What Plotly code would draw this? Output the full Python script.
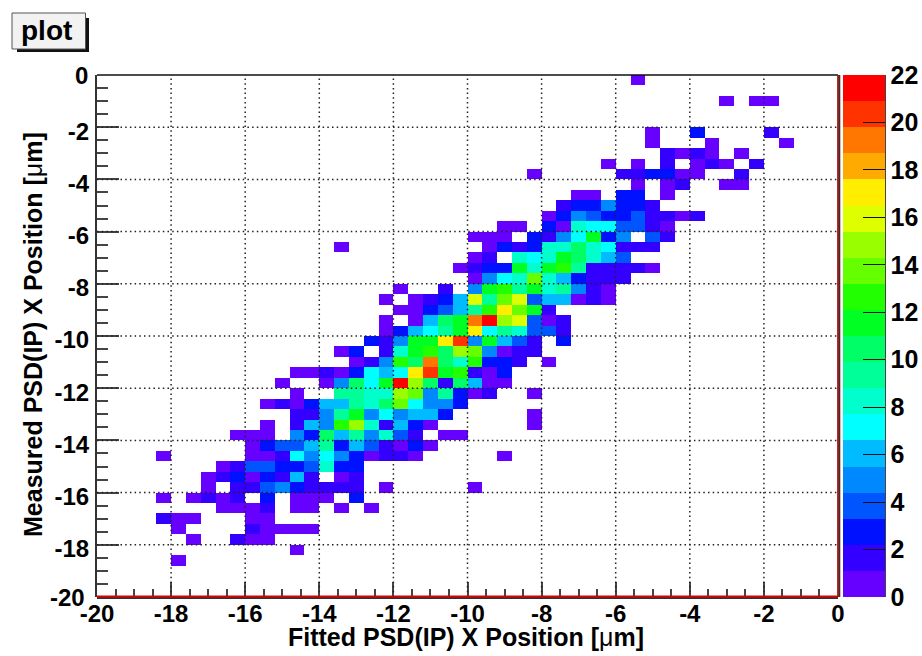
import plotly.graph_objects as go

# Histogram binning (50 x 50 bins of 0.4 um)
n_bins = 50
bin_width = 0.4
x_centers = [round(-20 + bin_width * (i + 0.5), 3) for i in range(n_bins)]
y_centers = [round(-bin_width * (r + 0.5), 3) for r in range(n_bins)]

x_ticks = [-20, -18, -16, -14, -12, -10, -8, -6, -4, -2, 0]
y_ticks = [0, -2, -4, -6, -8, -10, -12, -14, -16, -18, -20]
z_ticks = [0, 2, 4, 6, 8, 10, 12, 14, 16, 18, 20, 22]
x_title = "Fitted PSD(IP) X Position [<span style=\"font-weight:normal\">μ</span>m]"
y_title = "Measured PSD(IP) X Position [<span style=\"font-weight:normal\">μ</span>m]"
box_title = "plot"

# Counts per row from the top: (first x bin, counts...), 0 = empty bin
row_00 = (36, [1])
row_02 = (42, [1, 0, 1, 1])
row_05 = (37, [1, 0, 0, 3, 0, 0, 0, 0, 2])
row_06 = (37, [1, 0, 0, 0, 1, 0, 0, 0, 0, 1])
row_07 = (38, [2, 1, 2, 1, 0, 1])
row_08 = (34, [1, 0, 1, 0, 2, 0, 1, 2, 1, 0, 2])
row_09 = (29, [1, 0, 0, 0, 0, 0, 2, 2, 3, 3, 1, 1, 0, 0, 2])
row_10 = (36, [1, 0, 1, 2, 0, 0, 1, 1])
row_11 = (32, [1, 1, 0, 3, 3, 0, 1])
row_12 = (31, [2, 3, 3, 5, 3, 3, 2])
row_13 = (30, [1, 3, 5, 4, 3, 3, 4, 2, 2, 1, 2])
row_14 = (27, [1, 1, 0, 3, 1, 8, 7, 7, 4, 4, 2, 1])
row_15 = (25, [1, 1, 1, 0, 3, 2, 5, 7, 11, 3, 5, 0, 4, 2])
row_16 = (16, [1, 0, 0, 0, 0, 0, 0, 0, 0, 0, 1, 3, 2, 3, 8, 8, 10, 8, 7, 2, 2, 2])
row_17 = (25, [1, 2, 0, 8, 7, 8, 11, 10, 8, 6, 4])
row_18 = (24, [1, 2, 3, 3, 11, 8, 11, 13, 9, 2, 2, 2, 2, 1])
row_19 = (25, [1, 5, 7, 8, 14, 8, 6, 3, 2, 2, 2])
row_20 = (20, [1, 0, 0, 2, 0, 5, 11, 13, 9, 11, 8, 9, 5, 2, 1])
row_21 = (19, [1, 0, 1, 2, 3, 6, 16, 9, 14, 16, 4, 6, 6, 1, 2, 1])
row_22 = (20, [1, 1, 3, 4, 6, 9, 13, 17, 14, 11, 2])
row_23 = (19, [1, 0, 1, 6, 10, 11, 19, 21, 15, 16, 4, 1, 2])
row_24 = (19, [1, 3, 6, 7, 9, 11, 17, 7, 9, 8, 4, 4, 2])
row_25 = (18, [3, 2, 5, 11, 11, 17, 20, 5, 11, 6, 4, 2, 0, 3])
row_26 = (16, [1, 3, 0, 2, 8, 11, 13, 10, 15, 14, 5, 1, 2, 2])
row_27 = (17, [1, 2, 5, 13, 10, 19, 10, 8, 13, 3, 3, 2, 0, 1])
row_28 = (13, [1, 1, 2, 1, 3, 7, 6, 7, 17, 20, 11, 13, 2, 1, 3])
row_29 = (12, [1, 0, 0, 1, 5, 10, 7, 11, 21, 15, 10, 2, 10, 6, 1, 1])
row_30 = (13, [1, 0, 0, 9, 9, 8, 8, 15, 14, 5, 9, 3, 1, 2, 0, 0, 1])
row_31 = (11, [1, 2, 1, 3, 6, 6, 9, 8, 10, 14, 7, 5, 5, 3])
row_32 = (13, [2, 2, 5, 9, 11, 5, 7, 5, 6, 6, 3, 0, 0, 0, 0, 0, 1])
row_33 = (11, [1, 0, 2, 6, 5, 13, 15, 8, 2, 6, 3, 1, 0, 0, 0, 0, 0, 0, 1])
row_34 = (9, [1, 1, 1, 0, 5, 3, 10, 6, 9, 5, 8, 4, 2, 0, 1, 1])
row_35 = (10, [1, 3, 4, 4, 6, 9, 3, 6, 4, 2, 1, 3, 1])
row_36 = (4, [1, 0, 0, 0, 0, 0, 1, 1, 2, 7, 5, 7, 5, 3, 1, 2, 2, 1, 0, 0, 0, 0, 0, 1])
row_37 = (8, [1, 2, 4, 4, 3, 3, 4, 8, 3, 3])
row_38 = (7, [1, 2, 3, 1, 3, 2, 6, 2, 0, 1, 2])
row_39 = (7, [1, 0, 2, 2, 4, 5, 3, 2, 2, 2, 2, 0, 1, 0, 0, 0, 0, 0, 1])
row_40 = (4, [1, 0, 1, 2, 1, 2, 0, 3, 0, 1, 1, 1, 0, 3])
row_41 = (8, [1, 1, 1, 2, 0, 1, 1, 0, 1, 0, 1])
row_42 = (4, [2, 1, 1, 0, 0, 0, 1, 1])
row_43 = (5, [1, 0, 0, 0, 0, 2, 1, 1, 1, 1])
row_44 = (6, [1, 0, 0, 2, 1, 1])
row_45 = (13, [1])
row_46 = (5, [1])

rows = {0: row_00, 2: row_02, 5: row_05, 6: row_06, 7: row_07, 8: row_08, 9: row_09,
        10: row_10, 11: row_11, 12: row_12, 13: row_13, 14: row_14, 15: row_15,
        16: row_16, 17: row_17, 18: row_18, 19: row_19, 20: row_20, 21: row_21,
        22: row_22, 23: row_23, 24: row_24, 25: row_25, 26: row_26, 27: row_27,
        28: row_28, 29: row_29, 30: row_30, 31: row_31, 32: row_32, 33: row_33,
        34: row_34, 35: row_35, 36: row_36, 37: row_37, 38: row_38, 39: row_39,
        40: row_40, 41: row_41, 42: row_42, 43: row_43, 44: row_44, 45: row_45,
        46: row_46}

# 20-contour rainbow palette, bottom to top
palette = ["#6600ff", "#3300ff", "#0011ff", "#0055ff", "#0088ff", "#00bbff", "#00ffff",
           "#00ffcc", "#00ff99", "#00ff66", "#00ff22", "#22ff00", "#66ff00", "#99ff00",
           "#ddff00", "#ffee00", "#ffaa00", "#ff7700", "#ff3300", "#ff0000"]

z = [[None] * n_bins for _ in range(n_bins)]
for r, (start, counts) in rows.items():
    for i, v in enumerate(counts):
        if v:
            z[r][start + i] = v

scale = []
for k, c in enumerate(palette):
    scale.append([k / 20, c])
    scale.append([(k + 1) / 20, c])

W, H = 922, 656
L, R, T, B = 97, 838, 75, 597


def px(x):
    return (x - L) / (R - L)


def py(y):
    return (B - y) / (B - T)


FONT = "Liberation Sans"
fig = go.Figure(go.Heatmap(
    x=x_centers, y=y_centers, z=z, zmin=0, zmax=22, colorscale=scale,
    hoverongaps=False,
    colorbar=dict(
        x=px(843.3), xanchor="left", y=0, yanchor="bottom", len=1, lenmode="fraction",
        thickness=42, thicknessmode="pixels", xpad=0, ypad=0,
        outlinewidth=0,
        tickmode="array", tickvals=z_ticks, ticks="inside", ticklen=22, tickwidth=1,
        tickcolor="#111111", tickfont=dict(family=FONT, size=25, color="black", weight="bold"),
    ),
))

shapes = []
for t in x_ticks[1:-1]:
    shapes.append(dict(type="line", xref="x", yref="paper", x0=t, x1=t, y0=0, y1=1,
                       line=dict(color="#222222", width=1.5, dash="1.5px,3.2px"), layer="above"))
for t in y_ticks[1:-1]:
    shapes.append(dict(type="line", xref="paper", yref="y", x0=0, x1=1, y0=t, y1=t,
                       line=dict(color="#222222", width=1.5, dash="1.5px,3.2px"), layer="above"))
# frame
shapes += [
    dict(type="line", xref="paper", yref="paper", x0=0, x1=1, y0=1, y1=1,
         line=dict(color="#111111", width=1.5), layer="above"),
    dict(type="line", xref="paper", yref="paper", x0=px(838.8), x1=px(838.8), y0=0, y1=1,
         line=dict(color="#333333", width=3), layer="above"),
    dict(type="line", xref="paper", yref="paper", x0=px(838), x1=px(838), y0=0, y1=1,
         line=dict(color="#cc1111", width=1.5), layer="above"),
    dict(type="line", xref="paper", yref="paper", x0=0, x1=1, y0=py(597.5), y1=py(597.5),
         line=dict(color="#333333", width=3), layer="above"),
    dict(type="line", xref="paper", yref="paper", x0=0, x1=1, y0=py(596.5), y1=py(596.5),
         line=dict(color="#dd0000", width=1.8), layer="above"),
    # palette right edge
    dict(type="line", xref="paper", yref="paper", x0=px(885.5), x1=px(885.5), y0=0, y1=1,
         line=dict(color="#444444", width=1), layer="above"),
    # title box shadow and box
    dict(type="rect", xref="paper", yref="paper", x0=px(17), x1=px(89), y0=py(52), y1=py(18),
         line=dict(width=0), fillcolor="#111111", layer="above"),
    dict(type="rect", xref="paper", yref="paper", x0=px(12), x1=px(85.5), y0=py(49), y1=py(13),
         line=dict(color="#555555", width=1), fillcolor="#f2f2f2", layer="above"),
]

tick_font = dict(family=FONT, size=24, color="black", weight="bold")
annotations = [
    dict(text="<b>" + box_title + "</b>", xref="paper", yref="paper", x=px(46.5), y=py(31),
         xanchor="center", yanchor="middle", showarrow=False,
         font=dict(family=FONT, size=28, color="black")),
    dict(text="<b>" + x_title + "</b>", xref="paper", yref="paper", x=px(465.5), y=py(637),
         xanchor="center", yanchor="middle", showarrow=False,
         font=dict(family=FONT, size=25, color="black")),
    dict(text="<b>" + y_title + "</b>", xref="paper", yref="paper", x=px(33), y=py(335),
         xanchor="center", yanchor="middle", showarrow=False, textangle=-90,
         font=dict(family=FONT, size=25, color="black")),
    # end labels of the y axis sit closer to their ticks than the others
    dict(text=str(y_ticks[0]), xref="paper", yref="y", x=px(90), y=y_ticks[0], yshift=-0.7,
         xanchor="right", yanchor="middle", showarrow=False, font=tick_font),
    dict(text=str(y_ticks[-1]), xref="paper", yref="y", x=px(87), y=y_ticks[-1], yshift=-0.7,
         xanchor="right", yanchor="middle", showarrow=False, font=tick_font),
]

y_tick_text = ["" if t in (y_ticks[0], y_ticks[-1]) else str(t) for t in y_ticks]

fig.update_layout(
    width=W, height=H, margin=dict(l=L, r=W - R, t=T, b=H - B, autoexpand=False),
    paper_bgcolor="white", plot_bgcolor="white", shapes=shapes, annotations=annotations,
    xaxis=dict(range=[-20, 0], tickmode="array", tickvals=x_ticks, ticktext=[str(t) for t in x_ticks],
               ticks="inside", ticklen=15, tickwidth=1.5, tickcolor="#444444",
               showgrid=False, zeroline=False, showline=False, tickfont=tick_font, tickangle=0,
               minor=dict(tick0=-20, dtick=0.5, ticks="inside", ticklen=8, tickwidth=1.5,
                          tickcolor="#444444", showgrid=False),
               layer="above traces"),
    yaxis=dict(range=[-20, 0], tickmode="array", tickvals=y_ticks, ticktext=y_tick_text,
               ticks="inside", ticklen=22, tickwidth=1.5, tickcolor="#444444",
               showgrid=False, zeroline=False, showline=True, linecolor="#333333", linewidth=2,
               tickfont=tick_font, ticklabelstandoff=1, ticklabelshift=4,
               minor=dict(tick0=-20, dtick=0.5, ticks="inside", ticklen=11, tickwidth=1.5,
                          tickcolor="#444444", showgrid=False),
               layer="above traces"),
)

fig.write_html("out.html", config={"displayModeBar": False},
               post_script="document.body.style.margin='0';")
